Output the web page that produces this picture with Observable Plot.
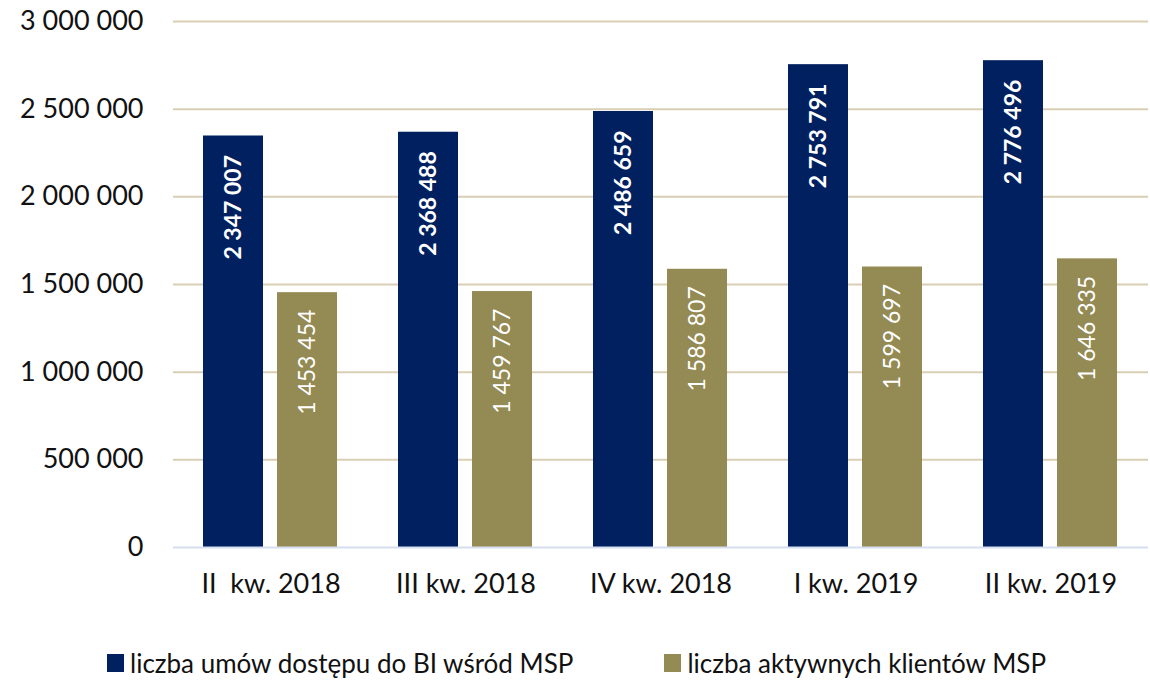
<!DOCTYPE html>
<html>
<head>
<meta charset="utf-8">
<script src="https://cdn.jsdelivr.net/npm/d3@7"></script>
<script src="https://cdn.jsdelivr.net/npm/@observablehq/plot@0.6"></script>
<style>
  body { margin: 0; background: #fff; font-family: Lato, sans-serif; }
  #chart svg text { white-space: pre; }
  .legend { display: flex; align-items: center; margin-top: 37px; padding-left: 107px; font-size: 26px; color: #111; }
  .legend .item { display: flex; align-items: center; white-space: pre; }
  .legend .sw { width: 17px; height: 18px; margin-right: 6px; }
</style>
</head>
<body>
<div id="chart"></div>
<div class="legend" id="legend"></div>
<script>
const quarters = ["II  kw. 2018", "III kw. 2018", "IV kw. 2018", "I kw. 2019", "II kw. 2019"];
const seriesNames = ["liczba umów dostępu do BI wśród MSP", "liczba aktywnych klientów MSP"];
const umowy = [2347007, 2368488, 2486659, 2753791, 2776496];
const klienci = [1453454, 1459767, 1586807, 1599697, 1646335];
const yTicks = [0, 500000, 1000000, 1500000, 2000000, 2500000, 3000000];
const colors = ["#002060", "#948a54"];

const data = [];
quarters.forEach((q, i) => {
  data.push({quarter: q, series: seriesNames[0], value: umowy[i]});
  data.push({quarter: q, series: seriesNames[1], value: klienci[i]});
});

const fmt = d3.formatLocale({decimal: ",", thousands: " ", grouping: [3], currency: ["", ""]}).format(",d");

const chart = Plot.plot({
  width: 1150,
  height: 610,
  marginTop: 21,
  marginBottom: 63,
  marginLeft: 172,
  marginRight: 2,
  style: {fontFamily: "Lato, sans-serif", fontSize: "27px", color: "#111", background: "#fff"},
  fx: {domain: quarters, padding: 0, label: null, tickSize: 0, tickPadding: 26, axis: "bottom"},
  x: {domain: seriesNames, axis: null, paddingInner: 0.187, paddingOuter: 0.395},
  y: {domain: [0, 3000000], ticks: yTicks, tickFormat: fmt, tickSize: 0, tickPadding: 30, label: null},
  color: {domain: seriesNames, range: colors},
  marks: [
    Plot.ruleY(yTicks.filter(d => d > 0), {stroke: "#d9cfb4", strokeWidth: 2}),
    Plot.barY(data, {fx: "quarter", x: "series", y: "value", fill: "series"}),
    Plot.ruleY([0], {stroke: "#d6dfef", strokeWidth: 2}),
    Plot.text(data.filter(d => d.series === seriesNames[0]), {
      fx: "quarter", x: "series", y: "value", text: d => fmt(d.value),
      rotate: -90, textAnchor: "end", lineAnchor: "middle", dy: 19,
      fill: "white", fontWeight: "bold", fontSize: 23
    }),
    Plot.text(data.filter(d => d.series === seriesNames[1]), {
      fx: "quarter", x: "series", y: "value", text: d => fmt(d.value),
      rotate: -90, textAnchor: "end", lineAnchor: "middle", dy: 17,
      fill: "white", fontSize: 23
    })
  ]
});
document.getElementById("chart").appendChild(chart);

const legend = document.getElementById("legend");
seriesNames.forEach((s, i) => {
  const item = document.createElement("div");
  item.className = "item";
  if (i > 0) item.style.marginLeft = "91px";
  const sw = document.createElement("span");
  sw.className = "sw";
  sw.style.background = colors[i];
  item.appendChild(sw);
  const t = document.createElement("span");
  t.textContent = s;
  item.appendChild(t);
  legend.appendChild(item);
});
</script>
</body>
</html>
